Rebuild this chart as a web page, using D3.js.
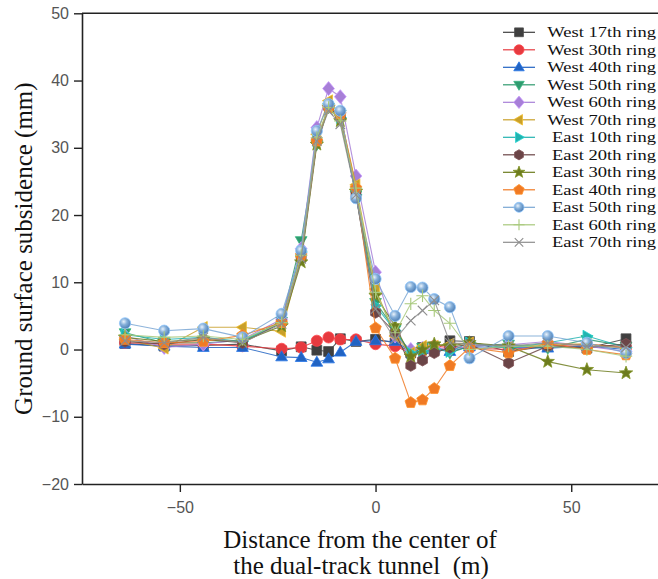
<!DOCTYPE html>
<html>
<head>
<meta charset="utf-8">
<script src="https://cdn.jsdelivr.net/npm/d3@7"></script>
<style>
  html, body { margin: 0; padding: 0; background: #fff; }
  svg { display: block; }
</style>
</head>
<body>
<svg id="chart" width="658" height="579"></svg>
<script>
// ---------------- data ----------------
const distances = [-64, -54, -44, -34, -24, -19, -15, -12, -9, -5, 0, 5, 9, 12, 15, 19, 24, 34, 44, 54, 64];

const seriesNames = ["West 17th ring", "West 30th ring", "West 40th ring", "West 50th ring",
  "West 60th ring", "West 70th ring", "East 10th ring", "East 20th ring", "East 30th ring",
  "East 40th ring", "East 50th ring", "East 60th ring", "East 70th ring"];

const west17 = [0.9, 0.5, 0.6, 0.8, -0.2, 0.4, -0.1, -0.3, 1.6, 1.2, 1.5, 1.0, -0.5, 0.3, 0.0, 1.3, 1.2, -0.3, 0.5, 0.2, 1.6];
const west30 = [1.0, 0.8, 0.8, 0.5, 0.1, 0.3, 1.3, 1.8, 1.5, 1.5, 0.8, 0.5, -0.5, -0.2, 0.5, 0.3, 0.2, 0.0, 0.5, 0.8, 0.3];
const west40 = [0.8, 0.5, 0.3, 0.3, -1.1, -1.2, -1.9, -1.4, -0.4, 1.2, 1.3, 1.2, -0.2, 0.0, 0.2, -0.3, 0.4, 0.3, 0.2, 0.5, 0.0];
const west50 = [2.5, 1.0, 1.0, 1.3, 4.2, 16.2, 30.5, 36.0, 35.0, 23.0, 7.0, 3.0, -0.8, 0.3, 0.5, -0.5, 0.5, 0.8, 0.2, 1.5, 0.5];
const west60 = [2.0, 0.3, 0.8, 1.5, 4.5, 15.0, 33.0, 38.8, 37.6, 25.8, 11.5, 2.0, 0.0, 0.2, 0.3, 0.0, 0.5, 0.7, 1.2, 0.5, -0.3];
const west70 = [1.5, 0.2, 3.3, 3.3, 2.7, 13.8, 32.0, 37.0, 34.8, 24.5, 9.0, 2.0, -0.5, 0.5, 0.5, 0.8, 1.0, 0.3, 0.8, 0.8, 0.2];
const east10 = [2.2, 1.5, 1.8, 1.2, 4.0, 14.5, 31.0, 36.2, 34.5, 23.0, 6.5, 2.8, -0.5, -0.3, 0.0, -0.3, 1.0, 0.2, 1.0, 2.0, 0.3];
const east20 = [1.2, 0.8, 1.5, 1.0, 4.0, 13.5, 31.0, 36.0, 34.5, 23.0, 5.5, 2.5, -2.4, -1.6, -0.5, 0.3, 0.8, -2.0, 0.5, 0.3, 0.8];
const east30 = [1.8, 1.2, 1.5, 1.2, 3.5, 13.0, 30.5, 36.0, 34.0, 23.5, 8.0, 3.5, -1.0, 0.0, 0.8, 0.5, 1.0, 0.5, -1.8, -3.0, -3.5];
const east40 = [1.5, 1.0, 1.2, 2.1, 4.0, 14.0, 31.0, 36.0, 35.0, 24.0, 3.2, -1.3, -7.9, -7.5, -5.8, -2.4, 0.3, -0.5, 0.9, 0.0, -0.8];
const east50 = [3.9, 2.8, 3.1, 1.8, 5.3, 14.7, 32.5, 36.5, 35.5, 22.5, 10.5, 5.0, 9.3, 9.2, 7.5, 6.3, -1.3, 2.0, 2.0, 1.0, -0.5];
const east60 = [2.2, 1.8, 2.0, 1.5, 4.0, 14.0, 31.5, 36.0, 34.0, 24.0, 8.5, 2.5, 6.8, 8.0, 5.8, 3.9, 0.0, 0.5, 0.5, 0.0, -1.0];
const east70 = [1.3, 1.0, 1.8, 1.0, 3.8, 13.5, 31.0, 35.5, 33.5, 23.0, 6.0, 1.5, 4.3, 5.8, 7.3, 1.0, 0.8, 0.5, 1.0, 0.5, 0.3];

const seriesValues = [west17, west30, west40, west50, west60, west70, east10, east20, east30, east40, east50, east60, east70];

const xTicks = [-50, 0, 50];
const yTicks = [-20, -10, 0, 10, 20, 30, 40, 50];

// ---------------- styles ----------------
const colors = ["#3f3f3f", "#e63a3f", "#2163c2", "#2f9a6e", "#a77fd7", "#c9a02a", "#22b3b0",
  "#6b4547", "#6d7c1e", "#f07a24", "#79a6d3", "#a8c97c", "#8e8e8e"];

function poly(ctx, pts) {
  ctx.moveTo(pts[0][0], pts[0][1]);
  for (let i = 1; i < pts.length; i++) ctx.lineTo(pts[i][0], pts[i][1]);
  ctx.closePath();
}
function regular(n, r, rot) {
  const pts = [];
  for (let i = 0; i < n; i++) {
    const a = rot + i * 2 * Math.PI / n;
    pts.push([r * Math.cos(a), r * Math.sin(a)]);
  }
  return pts;
}
const shapes = {
  square: { draw(c, r) { const h = r * 0.88; poly(c, [[-h, -h], [h, -h], [h, h], [-h, h]]); } },
  circle: { draw(c, r) { c.moveTo(r, 0); c.arc(0, 0, r, 0, 2 * Math.PI); } },
  triUp: { draw(c, r) { poly(c, [[0, -r * 1.1], [r * 1.05, r * 0.7], [-r * 1.05, r * 0.7]]); } },
  triDown: { draw(c, r) { poly(c, [[0, r * 1.1], [r * 1.05, -r * 0.7], [-r * 1.05, -r * 0.7]]); } },
  diamond: { draw(c, r) { poly(c, [[0, -r * 1.25], [r * 1.05, 0], [0, r * 1.25], [-r * 1.05, 0]]); } },
  triLeft: { draw(c, r) { poly(c, [[-r * 1.1, 0], [r * 0.7, -r * 1.05], [r * 0.7, r * 1.05]]); } },
  triRight: { draw(c, r) { poly(c, [[r * 1.1, 0], [-r * 0.7, -r * 1.05], [-r * 0.7, r * 1.05]]); } },
  hexagon: { draw(c, r) { poly(c, regular(6, r * 1.02, Math.PI / 6)); } },
  star: { draw(c, r) {
    const pts = [];
    for (let i = 0; i < 10; i++) {
      const rr = i % 2 === 0 ? r * 1.25 : r * 0.52;
      const a = -Math.PI / 2 + i * Math.PI / 5;
      pts.push([rr * Math.cos(a), rr * Math.sin(a)]);
    }
    poly(c, pts);
  } },
  pentagon: { draw(c, r) { poly(c, regular(5, r * 1.08, -Math.PI / 2)); } },
  plus: { draw(c, r) { const h = r * 1.1; c.moveTo(-h, 0); c.lineTo(h, 0); c.moveTo(0, -h); c.lineTo(0, h); } },
  cross: { draw(c, r) { const h = r * 0.85; c.moveTo(-h, -h); c.lineTo(h, h); c.moveTo(-h, h); c.lineTo(h, -h); } }
};
const markerTypes = ["square", "circle", "triUp", "triDown", "diamond", "triLeft", "triRight",
  "hexagon", "star", "pentagon", "circle", "plus", "cross"];

// ---------------- chart ----------------
const svg = d3.select("#chart");
const W = 658, H = 579;
const x = d3.scaleLinear().domain([-75, 72.5]).range([82, 659.3]);
const y = d3.scaleLinear().domain([-20, 50]).range([484, 13.3]);

const defs = svg.append("defs");
const grad = defs.append("radialGradient").attr("id", "ballGrad")
  .attr("cx", "38%").attr("cy", "35%").attr("r", "65%");
grad.append("stop").attr("offset", "0%").attr("stop-color", "#e9f2fb");
grad.append("stop").attr("offset", "45%").attr("stop-color", "#86b0da");
grad.append("stop").attr("offset", "100%").attr("stop-color", "#4f7fb5");

const series = seriesNames.map((name, i) => ({
  name, color: colors[i], marker: markerTypes[i],
  points: distances.map((d, j) => ({ x: d, v: seriesValues[i][j] }))
}));

function fillOf(s) {
  if (s.marker === "plus" || s.marker === "cross") return "none";
  if (s.name === "East 50th ring") return "url(#ballGrad)";
  return s.color;
}
function strokeOf(s) {
  if (s.marker === "plus" || s.marker === "cross") return s.color;
  return d3.color(s.color).brighter(0.5).formatHex();
}

const line = d3.line().x(d => x(d.x)).y(d => y(d.v));
const plot = svg.append("g");

series.forEach(s => {
  const g = plot.append("g");
  g.append("path").datum(s.points)
    .attr("d", line)
    .attr("fill", "none")
    .attr("stroke", s.color)
    .attr("stroke-opacity", 0.85)
    .attr("stroke-width", 1.1);
  const sym = d3.symbol().type(shapes[s.marker]).size(5.6);
  g.selectAll("path.m").data(s.points).join("path")
    .attr("class", "m")
    .attr("transform", d => `translate(${x(d.x)},${y(d.v)})`)
    .attr("d", sym)
    .attr("fill", fillOf(s))
    .attr("stroke", strokeOf(s))
    .attr("stroke-width", (s.marker === "plus" || s.marker === "cross") ? 1.1 : 0.8);
});

// axes
const axisColor = "#222";
const yAxis = svg.append("g").attr("transform", "translate(82,0)")
  .call(d3.axisLeft(y).tickValues(yTicks).tickSize(8).tickSizeOuter(0).tickPadding(5));
const xAxis = svg.append("g").attr("transform", "translate(0,484)")
  .call(d3.axisBottom(x).tickValues(xTicks).tickSize(8).tickSizeOuter(0).tickPadding(10));
[yAxis, xAxis].forEach(a => {
  a.select(".domain").attr("stroke", axisColor).attr("stroke-width", 1.6);
  a.selectAll(".tick line").attr("stroke", axisColor).attr("stroke-width", 1.4);
  a.selectAll(".tick text").attr("fill", "#555")
    .style("font-family", "'Liberation Sans', Arial, sans-serif").style("font-size", "16px");
});
// top frame
svg.append("line").attr("x1", 82).attr("x2", W).attr("y1", y(50)).attr("y2", y(50))
  .attr("stroke", axisColor).attr("stroke-width", 1.6);

// axis titles
const serif = "'Liberation Serif', 'Times New Roman', serif";
svg.append("text")
  .attr("transform", `translate(32,${(y(50) + y(-20)) / 2}) rotate(-90)`)
  .attr("text-anchor", "middle")
  .style("font-family", serif).style("font-size", "25px").attr("fill", "#111")
  .text("Ground surface subsidence (mm)");
svg.append("text").attr("x", 360).attr("y", 548)
  .attr("text-anchor", "middle")
  .style("font-family", serif).style("font-size", "25px").attr("fill", "#111")
  .text("Distance from the center of");
svg.append("text").attr("x", 361).attr("y", 574)
  .attr("text-anchor", "middle")
  .style("font-family", serif).style("font-size", "25px").style("white-space", "pre").attr("fill", "#111")
  .text("the dual-track tunnel  (m)");

// legend
const legend = svg.append("g");
series.forEach((s, i) => {
  const cy = 32.3 + i * 17.5;
  const g = legend.append("g").attr("transform", `translate(0,${cy})`);
  g.append("line").attr("x1", 503).attr("x2", 535).attr("y1", 0).attr("y2", 0)
    .attr("stroke", s.color).attr("stroke-width", 1.2);
  g.append("path").attr("transform", "translate(519,0)")
    .attr("d", d3.symbol().type(shapes[s.marker]).size(5)())
    .attr("fill", fillOf(s)).attr("stroke", strokeOf(s))
    .attr("stroke-width", (s.marker === "plus" || s.marker === "cross") ? 1.1 : 0.8);
  g.append("text")
    .attr("transform", `translate(656,5) scale(1.28,1)`)
    .attr("text-anchor", "end")
    .style("font-family", serif).style("font-size", "14.5px").attr("fill", "#111")
    .text(s.name);
});
</script>
</body>
</html>
